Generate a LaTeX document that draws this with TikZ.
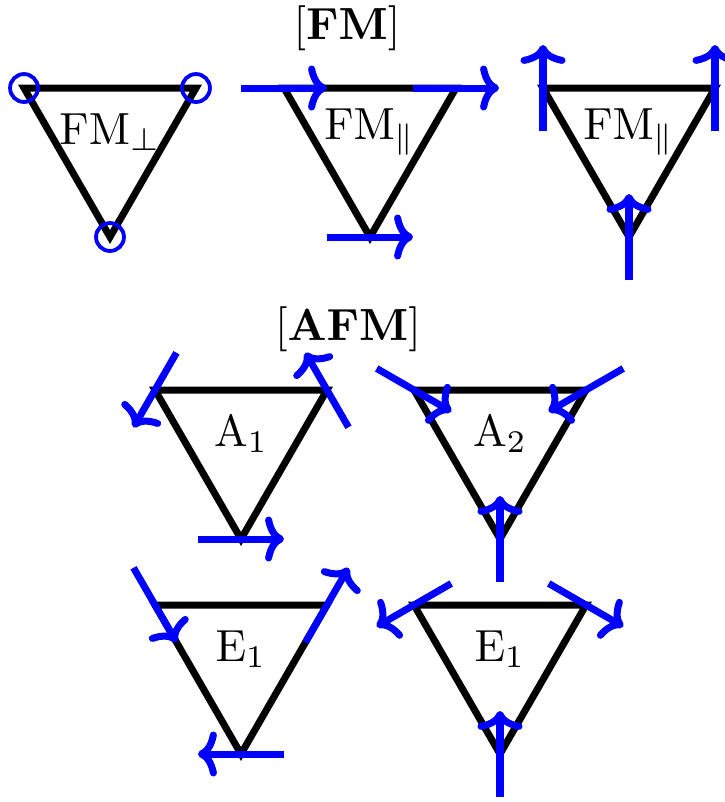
\documentclass[tikz,border=0pt]{standalone}
\usetikzlibrary{arrows.meta,calc}
\newcommand{\spinat}[2]{\draw[spin] ($(#1)+({#2+180}:9.556pt)$) -- ($(#1)+({#2}:9.556pt)$);}
\newcommand{\mktri}[3]{%
  \coordinate (#1-a) at (#2,#3);
  \coordinate (#1-b) at ($(#2,#3)+(172,0)$);
  \coordinate (#1-c) at ($(#2,#3)+(86,149)$);
  \draw[tri] (#1-a) -- (#1-b) -- (#1-c) -- cycle;}
\begin{document}
\begin{tikzpicture}[x=0.2222pt,y=-0.2222pt,
  tri/.style={draw=black,line width=1.556pt,line join=miter},
  spin/.style={draw=blue,line width=1.556pt,-{To[length=4.2pt,width=10pt]}},
  ring/.style={draw=blue,line width=0.85pt},
  lab/.style={font=\fontsize{10}{12}\selectfont,inner sep=0pt}]
\useasboundingbox (0,0) rectangle (725,802);
% titles
\node[lab,anchor=base] (hfm) at (347,39) {$[\mathbf{FM}]$};
\node[lab,anchor=base] (hafm) at (348,340) {$[\mathbf{AFM}]$};
% triangles
\mktri{t1}{24}{88}
\mktri{t2}{284}{88}
\mktri{t3}{543}{88}
\mktri{a1}{155}{390}
\mktri{a2}{414}{390}
\mktri{e1}{155}{605}
\mktri{e2}{414}{605}
% labels
\node[lab] (l1) at ($(t1-a)+(86,44)$) {$\mathrm{FM}_\perp$};
\node[lab] (l2) at ($(t2-a)+(86,44)$) {$\mathrm{FM}_\parallel$};
\node[lab] (l3) at ($(t3-a)+(86,44)$) {$\mathrm{FM}_\parallel$};
\node[lab] (l4) at ($(a1-a)+(86,44)$) {$\mathrm{A}_1$};
\node[lab] (l5) at ($(a2-a)+(86,44)$) {$\mathrm{A}_2$};
\node[lab] (l6) at ($(e1-a)+(86,44)$) {$\mathrm{E}_1$};
\node[lab] (l7) at ($(e2-a)+(86,44)$) {$\mathrm{E}_1$};
% FM perp: circles
\foreach \v in {a,b,c} {\draw[ring] (t1-\v) circle[radius=3.1pt];}
% FM parallel (in plane)
\foreach \v in {a,b,c} {\spinat{t2-\v}{0}}
% FM parallel (up)
\foreach \v in {a,b,c} {\spinat{t3-\v}{90}}
% A1
\spinat{a1-a}{240}
\spinat{a1-b}{120}
\spinat{a1-c}{0}
% A2
\spinat{a2-a}{-30}
\spinat{a2-b}{210}
\spinat{a2-c}{90}
% E1 left
\spinat{e1-a}{-60}
\spinat{e1-b}{60}
\spinat{e1-c}{180}
% E1 right
\spinat{e2-a}{210}
\spinat{e2-b}{-30}
\spinat{e2-c}{90}
\end{tikzpicture}
\end{document}
